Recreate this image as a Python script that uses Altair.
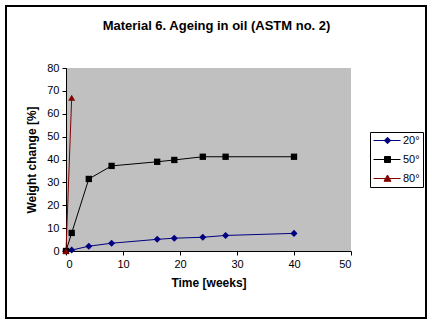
import altair as alt
import pandas as pd

series_names = ["20°", "50°", "80°"]
series_colors = ["#000080", "#000000", "#800000"]

weeks_20 = [0, 1, 4, 8, 16, 19, 24, 28, 40]
change_20 = [0, 0.4, 2.1, 3.4, 5.1, 5.6, 6.0, 6.8, 7.7]

weeks_50 = [0, 1, 4, 8, 16, 19, 24, 28, 40]
change_50 = [0, 7.9, 31.5, 37.2, 39.0, 39.8, 41.2, 41.2, 41.2]

weeks_80 = [0, 1]
change_80 = [0, 67]

x_ticks = [0, 10, 20, 30, 40, 50]
y_ticks = [0, 10, 20, 30, 40, 50, 60, 70, 80]

rows = []
for name, ws, vs in zip(series_names, [weeks_20, weeks_50, weeks_80], [change_20, change_50, change_80]):
    for i, (w, v) in enumerate(zip(ws, vs)):
        rows.append({"series": name, "week": w, "change": v, "order": i})
df = pd.DataFrame(rows)

FONT = "Liberation Sans"

x_axis = alt.Axis(values=x_ticks, title="Time [weeks]", grid=False,
                  titleFont=FONT, titleFontSize=12, titleFontWeight="bold",
                  titleColor="black", titlePadding=8, labelOverlap=False,
                  labelFont=FONT, labelFontSize=11, labelColor="black",
                  labelPadding=3, tickSize=4, tickColor="black",
                  domainColor="black")
y_axis = alt.Axis(values=y_ticks, title="Weight change [%]", grid=False,
                  titleFont=FONT, titleFontSize=12, titleFontWeight="bold",
                  titleColor="black", titlePadding=8, labelOverlap=False,
                  labelFont=FONT, labelFontSize=11, labelColor="black",
                  labelPadding=3, tickSize=4, tickColor="black",
                  domainColor="black")


def xe():
    return alt.X("week:Q", scale=alt.Scale(domain=[0, 50], nice=False), axis=x_axis)


def ye():
    return alt.Y("change:Q", scale=alt.Scale(domain=[0, 80], nice=False), axis=y_axis)


legend_paths = [
    "M-1,0H4.4M1.15,0L1.8,-0.65L2.45,0L1.8,0.65Z",
    "M-1,0H4.4M1.2,-0.6H2.4V0.6H1.2Z",
    "M-1,0H4.4M1.1,0.55L1.8,-0.7L2.5,0.55Z",
]

leg = dict(orient="none", legendX=304, legendY=64, title=None,
           labelFont=FONT, labelFontSize=11, labelColor="black",
           padding=3, rowPadding=7, strokeColor="black", fillColor="white",
           symbolSize=100, symbolStrokeWidth=1, labelOffset=19, symbolOpacity=1)


def ce():
    return alt.Color("series:N", scale=alt.Scale(domain=series_names, range=series_colors),
                     legend=alt.Legend(**leg))


base = alt.Chart(df)

lines = base.mark_line(strokeWidth=1).encode(
    x=xe(), y=ye(), color=ce(), order="order:Q",
)

marker_shapes = {"20°": ("diamond", 50), "50°": ("square", 40), "80°": ("triangle-up", 50)}
point_layers = []
for name in series_names:
    shp, sz = marker_shapes[name]
    point_layers.append(
        base.transform_filter(alt.datum.series == name).mark_point(
            filled=True, opacity=1, shape=shp, size=sz
        ).encode(x=xe(), y=ye(), color=ce())
    )

legend_layer = base.mark_point(
    filled=True, opacity=0, size=100, strokeWidth=1
).encode(
    x=xe(), y=ye(), color=ce(),
    stroke=alt.Stroke("series:N", scale=alt.Scale(domain=series_names, range=series_colors),
                      legend=alt.Legend(**leg)),
    shape=alt.Shape("series:N", scale=alt.Scale(domain=series_names, range=legend_paths),
                    legend=alt.Legend(**leg)),
)

frame = alt.Chart(pd.DataFrame({"k": [0]})).mark_rect(
    fill=None, stroke="black", strokeWidth=2
).encode(
    x=alt.value(-60), x2=alt.value(360), y=alt.value(-62), y2=alt.value(250)
)

chart = alt.layer(frame, lines, *point_layers, legend_layer).properties(
    width=285, height=183,
    padding={"left": 66, "top": 68, "right": 83, "bottom": 74},
    autosize="none",
    background="white",
    title=alt.TitleParams("Material 6. Ageing in oil (ASTM no. 2)", font=FONT,
                          fontSize=13, fontWeight="bold", color="black",
                          anchor="middle", dx=8, offset=-28),
).configure_view(fill="#C0C0C0", stroke=None)

chart.save("out.html", embed_options={"renderer": "svg", "actions": False})
